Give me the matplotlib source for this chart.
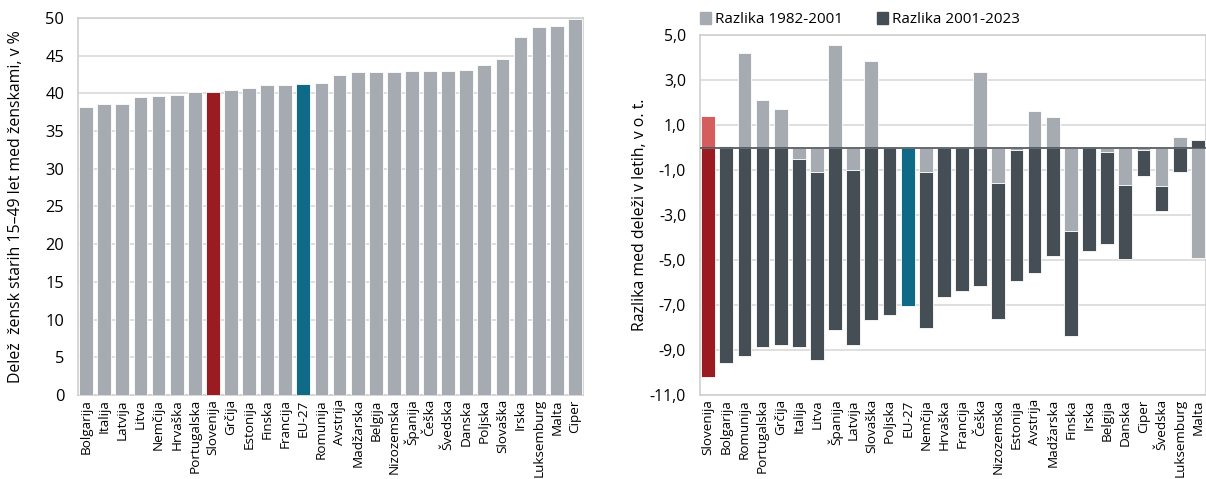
import numpy as np
import matplotlib
matplotlib.use("Agg")
import matplotlib.pyplot as plt
from matplotlib.patches import Patch
from matplotlib.ticker import FuncFormatter

plt.rcParams['font.family'] = ['Open Sans', 'DejaVu Sans']

# left panel: share of women aged 15-49 among all women, %
countries_left = ["Bolgarija", "Italija", "Latvija", "Litva", "Nemčija", "Hrvaška",
                  "Portugalska", "Slovenija", "Grčija", "Estonija", "Finska", "Francija",
                  "EU-27", "Romunija", "Avstrija", "Madžarska", "Belgija", "Nizozemska",
                  "Španija", "Češka", "Švedska", "Danska", "Poljska", "Slovaška", "Irska",
                  "Luksemburg", "Malta", "Ciper"]
share = [38.15, 38.55, 38.65, 39.5, 39.7, 39.8, 40.2, 40.25, 40.4, 40.7, 41.1, 41.1,
         41.3, 41.4, 42.45, 42.9, 42.9, 42.9, 42.95, 43.0, 43.0, 43.05, 43.8, 44.5,
         47.45, 48.75, 48.9, 49.9]

# right panel: change of that share, percentage points
countries_right = ["Slovenija", "Bolgarija", "Romunija", "Portugalska", "Grčija", "Italija",
                   "Litva", "Španija", "Latvija", "Slovaška", "Poljska", "EU-27", "Nemčija",
                   "Hrvaška", "Francija", "Češka", "Nizozemska", "Estonija", "Avstrija",
                   "Madžarska", "Finska", "Irska", "Belgija", "Danska", "Ciper", "Švedska",
                   "Luksemburg", "Malta"]
diff_1982_2001 = [1.4, 0.05, 4.2, 2.11, 1.7, -0.5, -1.09, 4.56, -1.0, 3.83, 0.0, 0.0, -1.09,
                  0.0, 0.0, 3.37, -1.58, -0.1, 1.62, 1.36, -3.71, 0.0, -0.21, -1.67, -0.1,
                  -1.7, 0.48, -4.9]
diff_2001_2023 = [-10.2, -9.58, -9.27, -8.85, -8.76, -8.38, -8.34, -8.11, -7.76, -7.68, -7.44,
                  -7.03, -6.95, -6.64, -6.38, -6.16, -6.06, -5.83, -5.56, -4.81, -4.65, -4.59,
                  -4.06, -3.29, -1.15, -1.12, -1.09, 0.32]

GRAY = "#a5abb1"
DARK = "#454d55"
RED = "#9a1b21"
LIGHTRED = "#d45e5e"
TEAL = "#0f6a88"
GRID = "#d9d9d9"
FRAME = "#cfcfcf"

fig = plt.figure(figsize=(12.06, 4.79), dpi=100)

# ---- left chart
ax1 = fig.add_axes([0.0647, 0.1754, 0.4187, 0.787])
x1 = np.arange(len(countries_left))
cols1 = [RED if c == "Slovenija" else TEAL if c == "EU-27" else GRAY for c in countries_left]
ax1.bar(x1, share, width=0.76, color=cols1, edgecolor="white", linewidth=0.6, zorder=3)
ax1.set_xlim(-0.45, len(x1) - 0.55)
ax1.set_ylim(0, 50)
ax1.set_yticks(range(0, 51, 5))
ax1.grid(axis="y", color=GRID, linewidth=1.2, zorder=0)
ax1.set_xticks(x1)
ax1.set_xticklabels(countries_left, rotation=90, fontsize=9.7)
ax1.tick_params(axis="y", labelsize=11.8, length=0, pad=10)
ax1.tick_params(axis="x", length=0, pad=3)
for s in ax1.spines.values():
    s.set_color(FRAME)
    s.set_linewidth(1.2)
ax1.set_ylabel("Delež  žensk starih 15–49 let med ženskami, v %", fontsize=11.4, labelpad=15)

# ---- right chart
ax2 = fig.add_axes([0.5804, 0.1754, 0.4196, 0.7515])
x2 = np.arange(len(countries_right))
a = np.array(diff_1982_2001)
b = np.array(diff_2001_2023)
# stack like a spreadsheet: second series sits on first only when signs agree
bottom_b = np.where(np.sign(a) == np.sign(b), a, 0.0)
c_a = [LIGHTRED if c == "Slovenija" else GRAY for c in countries_right]
c_b = [RED if c == "Slovenija" else TEAL if c == "EU-27" else DARK for c in countries_right]
ax2.bar(x2, a, width=0.76, color=c_a, edgecolor="white", linewidth=0.6, zorder=3)
ax2.bar(x2, b, bottom=bottom_b, width=0.76, color=c_b, edgecolor="white", linewidth=0.6, zorder=3)
ax2.axhline(0, color="#4a5057", linewidth=1.2, zorder=4)
ax2.set_xlim(-0.45, len(x2) - 0.55)
ax2.set_ylim(-11, 5)
ax2.set_yticks(np.arange(-11, 5.1, 2))
ax2.yaxis.set_major_formatter(FuncFormatter(lambda v, p: f"{v:.1f}".replace(".", ",")))
ax2.grid(axis="y", color=GRID, linewidth=1.2, zorder=0)
ax2.set_xticks(x2)
ax2.set_xticklabels(countries_right, rotation=90, fontsize=9.7)
ax2.tick_params(axis="y", labelsize=11.3, length=0, pad=10)
ax2.tick_params(axis="x", length=0, pad=3)
for s in ax2.spines.values():
    s.set_color(FRAME)
    s.set_linewidth(1.2)
ax2.set_ylabel("Razlika med deleži v letih, v o. t.", fontsize=11.4, labelpad=1)

handles = [Patch(color=GRAY, label="Razlika 1982-2001"), Patch(color=DARK, label="Razlika 2001-2023")]
ax2.legend(handles=handles, loc="lower left", bbox_to_anchor=(-0.015, 1.0), ncol=2,
           frameon=False, fontsize=11, handlelength=0.75, handleheight=0.75,
           handletextpad=0.25, columnspacing=2.2, borderaxespad=0.1)

fig.savefig("out.png", dpi=100)
